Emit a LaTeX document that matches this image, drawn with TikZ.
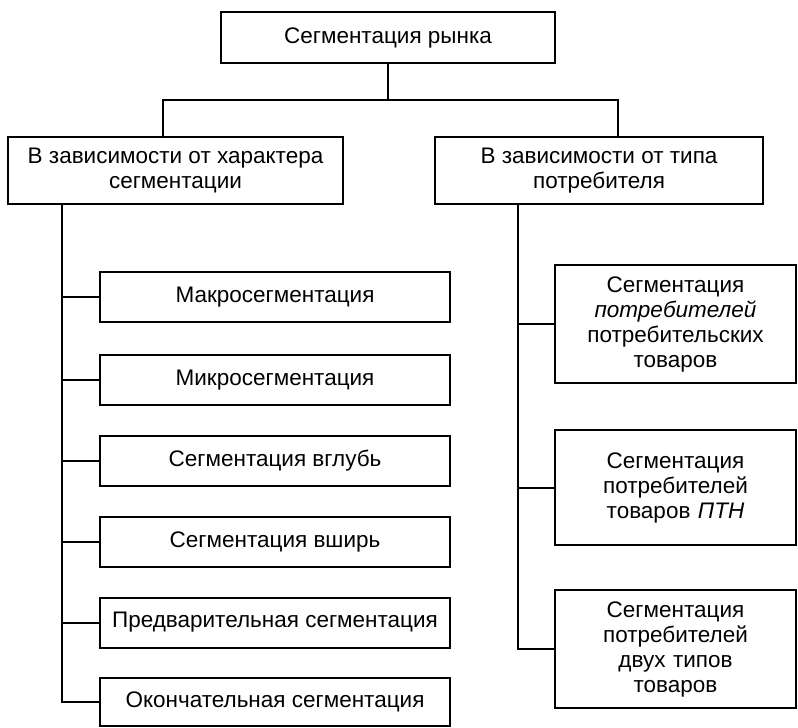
\documentclass[tikz,border=0pt]{standalone}
\usepackage{fontspec}
\setmainfont{Liberation Sans}
\usepackage{tikz}

\begin{document}
\begin{tikzpicture}[x=1pt, y=-1pt, line width=2pt,
  box/.style={draw, align=center, inner sep=2pt, font=\fontsize{22.5}{25}\selectfont},
  leftbox/.style={box, minimum width=350pt, minimum height=50pt},
  rightbox/.style={box, minimum width=241pt, text width=230pt}]
\useasboundingbox (0,0) rectangle (798,728);
% top level
\node[box, minimum width=334pt, minimum height=51pt] (rynok) at (388,37.5) {Сегментация рынка};
\node[box, minimum width=335pt, minimum height=67pt] (harakter) at (175.5,170.5) {В зависимости от характера\\сегментации};
\node[box, minimum width=328pt, minimum height=67pt] (tip) at (599,170.5) {В зависимости от типа\\потребителя};
\coordinate (hub) at (388,100);
\draw (rynok) -- (hub);
\draw (hub) -| ([xshift=-12.5pt]harakter.north);
\draw (hub) -| ([xshift=19pt]tip.north);
% left column
\node[leftbox] (makro) at (275,297) {Макросегментация};
\node[leftbox] (mikro) at (275,380) {Микросегментация};
\node[leftbox] (vglub) at (275,461) {Сегментация вглубь};
\node[leftbox] (vshir) at (275,542) {Сегментация вширь};
\node[leftbox] (pred) at (275,622.5) {Предварительная сегментация};
\node[leftbox, minimum height=48pt] (okon) at (275,702) {Окончательная сегментация};
\coordinate (lspine) at (62,204);
\draw (lspine) |- (okon);
\foreach \n in {makro,mikro,vglub,vshir,pred}
  \draw (\n.west) -- (\n.west -| lspine);
% right column
\node[rightbox, minimum height=118pt] (potreb) at (675.5,324) {Сегментация\\\textit{потребителей}\\потребительских\\товаров};
\node[rightbox, minimum height=115pt] (ptn) at (675.5,487.5) {Сегментация\\потребителей\\товаров \textit{ПТН}};
\node[rightbox, minimum height=118pt] (dvuh) at (675.5,649) {Сегментация\\потребителей\\двух типов\\товаров};
\coordinate (rspine) at (518,204);
\draw (rspine) |- (dvuh);
\foreach \n in {potreb,ptn}
  \draw (\n.west) -- (\n.west -| rspine);
\end{tikzpicture}
\end{document}
